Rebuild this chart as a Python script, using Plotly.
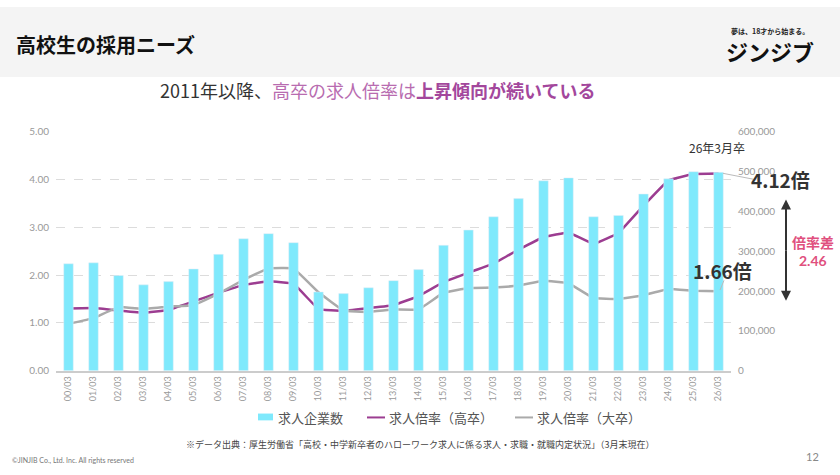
import plotly.graph_objects as go

W, H = 840, 475

# ---------------- data ----------------
categories = [f"{i:02d}/03" for i in range(27)]
companies = [268300, 270700, 239000, 215400, 223600, 255300, 292000, 331000, 343900,
             321200, 197600, 193500, 208100, 226000, 253700, 314600, 352900, 386100,
             431700, 476400, 483700, 386100, 389500, 443200, 481200, 499200, 497600]
ratio_high = [1.30, 1.31, 1.26, 1.21, 1.27, 1.45, 1.63, 1.79, 1.87, 1.82, 1.29, 1.25,
              1.31, 1.37, 1.56, 1.85, 2.05, 2.24, 2.53, 2.79, 2.89, 2.65, 2.88, 3.45,
              3.98, 4.11, 4.12]
ratio_univ = [0.98, 1.10, 1.33, 1.29, 1.34, 1.37, 1.61, 1.90, 2.14, 2.14, 1.64, 1.26,
              1.23, 1.28, 1.28, 1.63, 1.73, 1.74, 1.78, 1.88, 1.83, 1.52, 1.50, 1.58,
              1.71, 1.67, 1.66]
left_ticks = [0, 1, 2, 3, 4, 5]
left_ticklabels = ["0.00", "1.00", "2.00", "3.00", "4.00", "5.00"]
right_ticks = [0, 100000, 200000, 300000, 400000, 500000, 600000]
right_ticklabels = ["0", "100,000", "200,000", "300,000", "400,000", "500,000", "600,000"]

CYAN = "#7fe9fc"
PURPLE = "#9c3d91"
GRAY = "#aaaaaa"
PINK = "#e0507e"
JP = "Noto Sans CJK JP"
NUM = "Lato"


def px(x):
    return x / W


def py(y):
    return (H - y) / H


fig = go.Figure()
fig.add_trace(go.Bar(x=categories, y=companies, marker_color=CYAN, width=0.38,
                     yaxis="y2", name="求人企業数", showlegend=False))
fig.add_trace(go.Scatter(x=categories, y=ratio_high, mode="lines",
                         line=dict(color=PURPLE, width=2.5, shape="spline", smoothing=0.2),
                         name="求人倍率（高卒）", showlegend=False))
fig.add_trace(go.Scatter(x=categories, y=ratio_univ, mode="lines",
                         line=dict(color=GRAY, width=2.5, shape="spline", smoothing=0.2),
                         name="求人倍率（大卒）", showlegend=False))

shapes = []
annotations = []

# header band
shapes.append(dict(type="rect", xref="paper", yref="paper", x0=0, x1=1, y0=py(72), y1=1,
                   fillcolor="#f4f4f4", line=dict(width=0), layer="below"))

annotations.append(dict(xref="paper", yref="paper", x=px(14), y=py(39), xanchor="left",
                        yanchor="middle", showarrow=False, text="<b>高校生の採用ニーズ</b>",
                        font=dict(family=JP, size=20, color="#111")))
# logo
annotations.append(dict(xref="paper", yref="paper", x=px(770), y=py(25), xanchor="center",
                        yanchor="middle", showarrow=False, text="<b>夢は、18才から始まる。</b>",
                        font=dict(family=JP, size=7, color="#222")))
annotations.append(dict(xref="paper", yref="paper", x=px(770), y=py(45), xanchor="center",
                        yanchor="middle", showarrow=False, text="<b>ジンジブ</b>",
                        font=dict(family=JP, size=22, color="#111")))

# subtitle
annotations.append(dict(xref="paper", yref="paper", x=px(377), y=py(85), xanchor="center",
                        yanchor="middle", showarrow=False,
                        text="<span style='color:#333'>2011年以降、</span>"
                             "<span style='color:#b86cb0'>高卒の求人倍率は</span>"
                             "<b><span style='color:#a3479c'>上昇傾向が続いている</span></b>",
                        font=dict(family=JP, size=18)))

# annotations on chart
annotations.append(dict(xref="paper", yref="paper", x=px(717), y=py(144), xanchor="center",
                        yanchor="middle", showarrow=False, text="26年3月卒",
                        font=dict(family=JP, size=12, color="#333")))
annotations.append(dict(xref="paper", yref="paper", x=px(780), y=py(177), xanchor="center",
                        yanchor="middle", showarrow=False, text="<b>4.12倍</b>",
                        font=dict(family=JP, size=19, color="#333")))
annotations.append(dict(xref="paper", yref="paper", x=px(722), y=py(271), xanchor="center",
                        yanchor="middle", showarrow=False, text="<b>1.66倍</b>",
                        font=dict(family=JP, size=19, color="#333")))
annotations.append(dict(xref="paper", yref="paper", x=px(813), y=py(242), xanchor="center",
                        yanchor="middle", showarrow=False, text="<b>倍率差</b>",
                        font=dict(family=JP, size=14, color=PINK)))
annotations.append(dict(xref="paper", yref="paper", x=px(813), y=py(261), xanchor="center",
                        yanchor="middle", showarrow=False, text="<b>2.46</b>",
                        font=dict(family=NUM, size=14, color=PINK)))
# connector lines
shapes.append(dict(type="line", xref="paper", yref="paper", x0=px(723), y0=py(171),
                   x1=px(753), y1=py(177), line=dict(color="#bbbbbb", width=1)))
shapes.append(dict(type="line", xref="paper", yref="paper", x0=px(720), y0=py(291),
                   x1=px(724), y1=py(281), line=dict(color="#bbbbbb", width=1)))
# double arrow
annotations.append(dict(xref="paper", yref="paper", x=px(786), y=py(198), ax=0, ay=52,
                        showarrow=True, arrowhead=2, arrowsize=1, arrowwidth=2,
                        arrowcolor="#333", text=""))
annotations.append(dict(xref="paper", yref="paper", x=px(786), y=py(302), ax=0, ay=-52,
                        showarrow=True, arrowhead=2, arrowsize=1, arrowwidth=2,
                        arrowcolor="#333", text=""))

# legend (manual)
LY = 422
shapes.append(dict(type="rect", xref="paper", yref="paper", x0=px(258), x1=px(273),
                   y0=py(425), y1=py(418), fillcolor=CYAN, line=dict(width=0)))
shapes.append(dict(type="line", xref="paper", yref="paper", x0=px(367), x1=px(385),
                   y0=py(LY), y1=py(LY), line=dict(color=PURPLE, width=2)))
shapes.append(dict(type="line", xref="paper", yref="paper", x0=px(515), x1=px(533),
                   y0=py(LY), y1=py(LY), line=dict(color=GRAY, width=2)))
for xx, t in [(276, "求人企業数"), (387, "求人倍率（高卒）"), (535, "求人倍率（大卒）")]:
    annotations.append(dict(xref="paper", yref="paper", x=px(xx), y=py(LY), xanchor="left",
                            yanchor="middle", showarrow=False, text=t,
                            font=dict(family=JP, size=13, color="#555")))

# footer
annotations.append(dict(xref="paper", yref="paper", x=px(420), y=py(450), xanchor="center",
                        yanchor="middle", showarrow=False,
                        text="※データ出典：厚生労働省「高校・中学新卒者のハローワーク求人に係る求人・求職・就職内定状況」（3月末現在）",
                        font=dict(family=JP, size=9, color="#444")))
annotations.append(dict(xref="paper", yref="paper", x=px(10), y=py(466), xanchor="left",
                        yanchor="middle", showarrow=False,
                        text="©JINJIB Co., Ltd. Inc. All rights reserved",
                        font=dict(family=NUM, size=7, color="#777")))
annotations.append(dict(xref="paper", yref="paper", x=px(812), y=py(462), xanchor="center",
                        yanchor="middle", showarrow=False, text="12",
                        font=dict(family=NUM, size=11, color="#888")))

fig.update_layout(
    width=W, height=H,
    margin=dict(l=0, r=0, t=0, b=0),
    paper_bgcolor="white", plot_bgcolor="white",
    shapes=shapes, annotations=annotations,
    bargap=0.6,
    xaxis=dict(domain=[px(56), px(731)], type="category", tickangle=-90,
               tickfont=dict(family=NUM, size=9, color="#999"), showgrid=False,
               showline=True, linecolor="#cccccc", linewidth=2, ticks="", ticklen=0),
    yaxis=dict(domain=[py(374), py(128)], range=[0, 5], tickvals=left_ticks,
               ticktext=left_ticklabels, tickfont=dict(family=NUM, size=10, color="#999"),
               showgrid=True, gridcolor="#dcdcdc", griddash="dash", gridwidth=1,
               zeroline=False, ticks="", ticklabelstandoff=6),
    yaxis2=dict(domain=[py(374), py(128)], range=[0, 600000], overlaying="y", side="right",
                tickvals=right_ticks, ticktext=right_ticklabels,
                tickfont=dict(family=NUM, size=10, color="#999"), showgrid=False,
                zeroline=False, ticks="", ticklabelstandoff=6),
)

fig.write_html("out.html")
